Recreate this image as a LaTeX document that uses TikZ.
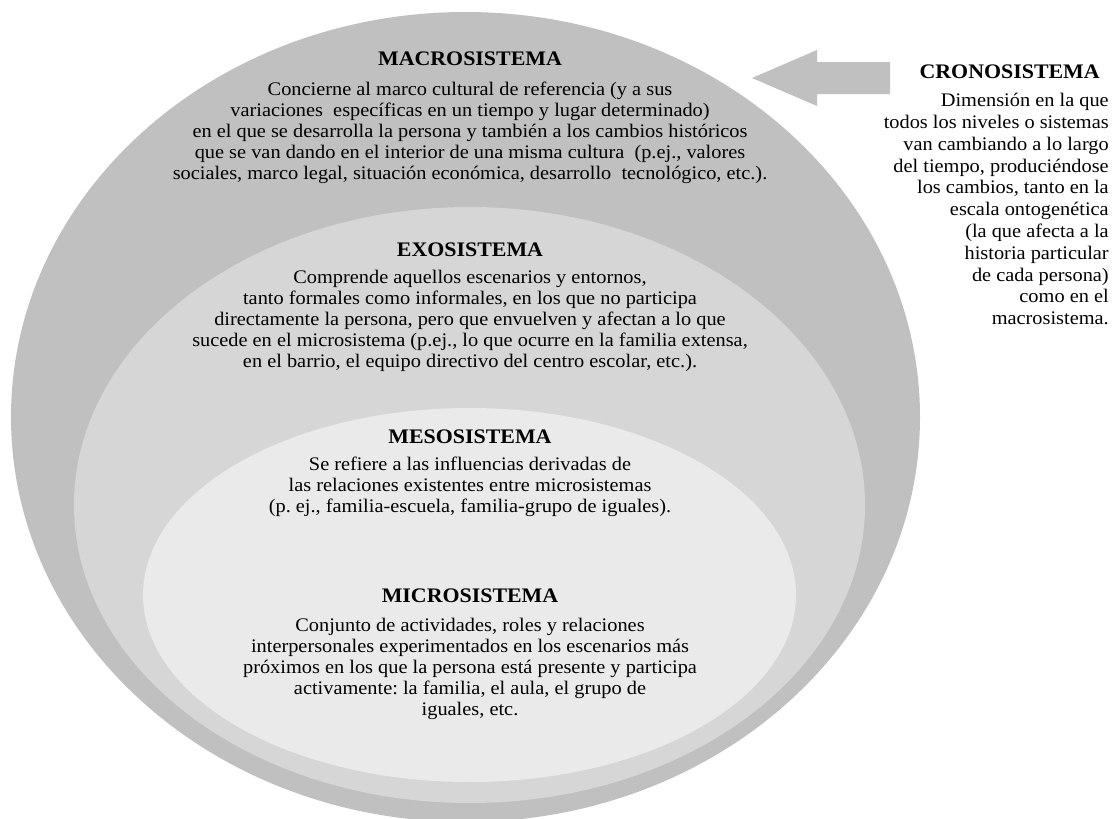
\documentclass[tikz,border=0pt]{standalone}
\usepackage{fontspec}
\setmainfont{Liberation Serif}[FakeStretch=1.06]
\usetikzlibrary{positioning}
\definecolor{macrogray}{HTML}{C0C0C0}
\definecolor{exogray}{HTML}{D6D6D6}
\definecolor{mesogray}{HTML}{EAEAEA}
\frenchspacing

\begin{document}
\begin{tikzpicture}[x=0.75pt, y=-0.75pt, node distance=50pt]
    \tikzstyle{title} = [font=\fontsize{15.5}{15.75}\selectfont\bfseries, inner sep=0pt]
\tikzstyle{body} = [font=\fontsize{14.4}{15.75}\selectfont, align=center, inner sep=0pt]
\tikzstyle{side} = [font=\fontsize{14.4}{16.35}\selectfont, align=right, inner sep=0pt]

    \useasboundingbox (0,0) rectangle (1113,818);
    % Draw layers
    \fill [macrogray] (465.5,417) ellipse [x radius=454.5, y radius=405];
    \fill [exogray] (469.5,505) ellipse [x radius=395.5, y radius=298];
    \fill [mesogray] (469.5,595) ellipse [x radius=326.5, y radius=187];
    \fill [macrogray] (752,78) -- (817,50) -- (817,62) -- (890,62)
        -- (890,94) -- (817,94) -- (817,106) -- cycle;
    % Place nodes
    \node [title] (macro) at (470,59) {MACROSISTEMA};
    \node [body, below of=macro, node distance=55.5pt] (macrotext) {Concierne al marco cultural de referencia (y a sus\\
        variaciones~ específicas en un tiempo y lugar determinado)\\
        en el que se desarrolla la persona y también a los cambios históricos\\
        que se van dando en el interior de una misma cultura~ (p.ej., valores\\
        sociales, marco legal, situación económica, desarrollo~ tecnológico, etc.).};
    \node [title, below of=macrotext, node distance=87.75pt] (exo) {EXOSISTEMA};
    \node [body, below of=exo, node distance=53.25pt] (exotext) {Comprende aquellos escenarios y entornos,\\
        tanto formales como informales, en los que no participa\\
        directamente la persona, pero que envuelven y afectan a lo que\\
        sucede en el microsistema (p.ej., lo que ocurre en la familia extensa,\\
        en el barrio, el equipo directivo del centro escolar, etc.).};
    \node [title, below of=exotext, node distance=87pt] (meso) {MESOSISTEMA};
    \node [body, below of=meso, node distance=37.5pt] (mesotext) {Se refiere a las influencias derivadas de\\
        las relaciones existentes entre microsistemas\\
        (p. ej., familia-escuela, familia-grupo de iguales).};
    \node [title, below of=mesotext, node distance=81.75pt] (micro) {MICROSISTEMA};
    \node [body, below of=micro, node distance=54.75pt] (microtext) {Conjunto de actividades, roles y relaciones\\
        interpersonales experimentados en los escenarios más\\
        próximos en los que la persona está presente y participa\\
        activamente: la familia, el aula, el grupo de\\
        iguales, etc.};
    \node [title, anchor=east] (crono) at (1100,72) {CRONOSISTEMA};
    \node [side, anchor=north east] (cronotext) at (1109,93) {Dimensión en la que\\
        todos los niveles o sistemas\\
        van cambiando a lo largo\\
        del tiempo, produciéndose\\
        los cambios, tanto en la\\
        escala ontogenética\\
        (la que afecta a la\\
        historia particular\\
        de cada persona)\\
        como en el\\
        macrosistema.};
\end{tikzpicture}
\end{document}
